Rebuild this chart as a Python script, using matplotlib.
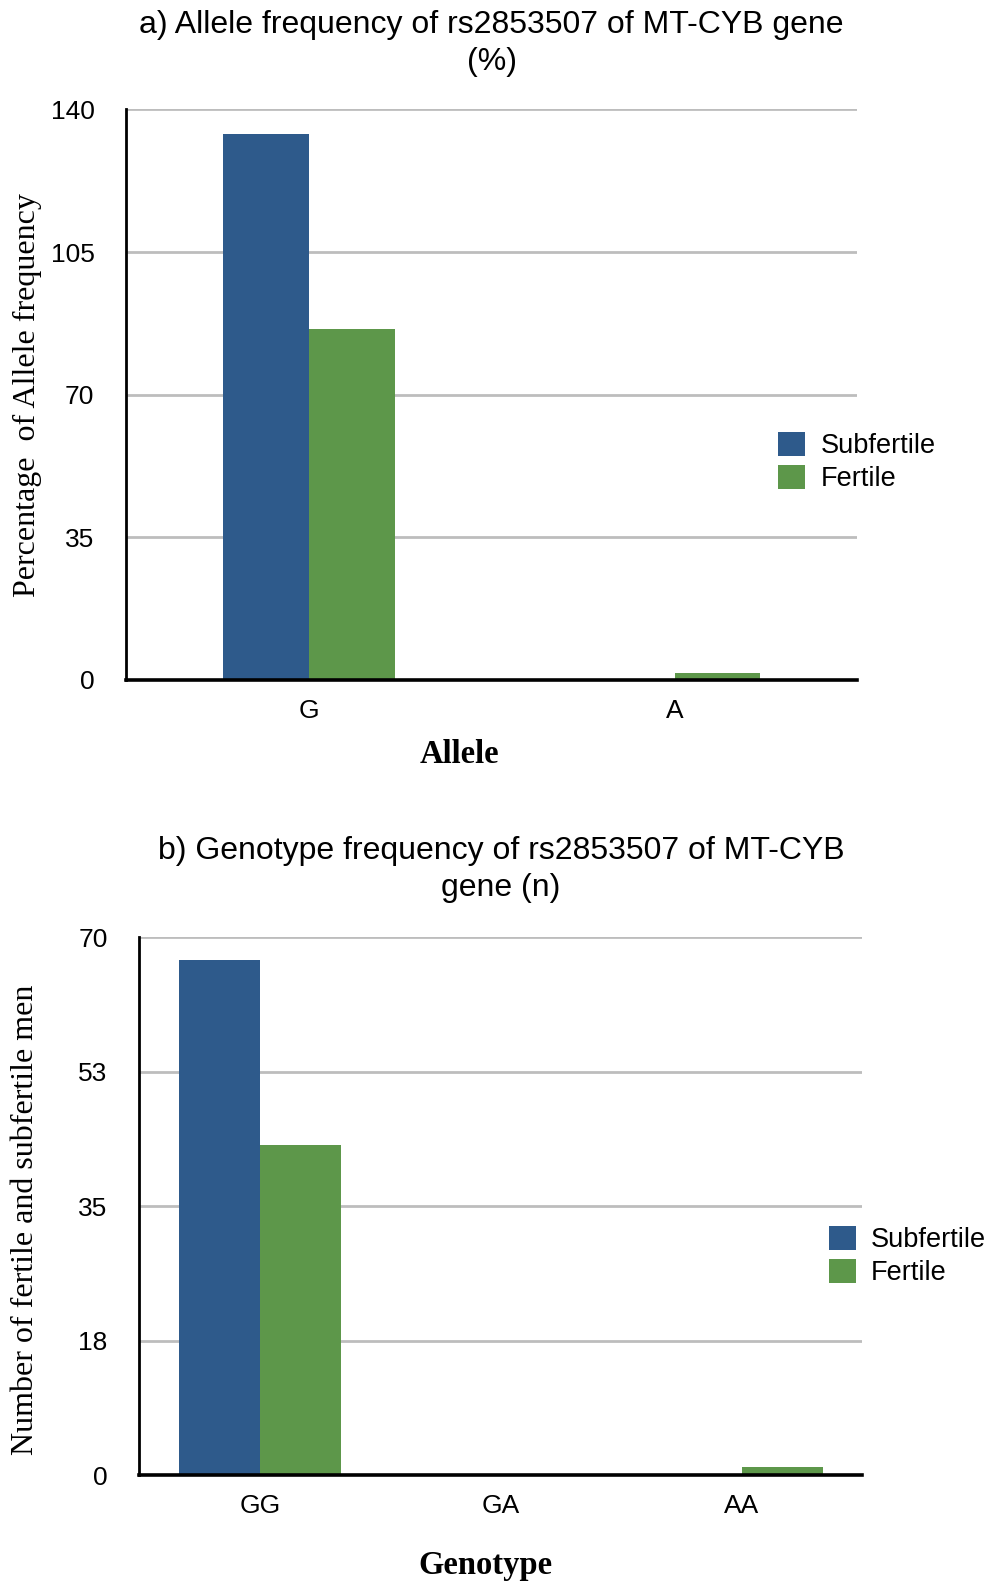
import numpy as np
import matplotlib
matplotlib.use('Agg')
import matplotlib.pyplot as plt

# allele frequency (%)
alleles = ['G', 'A']
allele_sub = [134, 0]
allele_fer = [86, 1.6]
allele_ticks = [0, 35, 70, 105, 140]

# genotype counts (n)
genotypes = ['GG', 'GA', 'AA']
geno_sub = [67, 0, 0]
geno_fer = [43, 0, 1]
geno_ticks = [0, 17.5, 35, 52.5, 70]
geno_ticklabels = ['0', '18', '35', '53', '70']

blue = '#2E5A8B'
green = '#5D974A'
sans = 'Liberation Sans'
serif = 'Liberation Serif'

fig = plt.figure(figsize=(9.89, 15.85), dpi=100)


def style_axes(ax, ticks, ticklabels):
    ax.set_yticks(ticks)
    ax.set_yticklabels(ticklabels, family=sans, fontsize=19)
    ax.set_ylim(ticks[0], ticks[-1])
    ax.tick_params(axis='both', length=0)
    ax.tick_params(axis='y', pad=23)
    ax.tick_params(axis='x', pad=14, labelsize=19)
    for lab in ax.get_xticklabels():
        lab.set_family(sans)
    ax.grid(axis='y', color='#bdbdbd', lw=2)
    ax.set_axisbelow(True)
    ax.spines['top'].set_visible(False)
    ax.spines['right'].set_visible(False)
    ax.spines['left'].set_linewidth(2)
    ax.spines['bottom'].set_linewidth(2.6)
    ax.spines['bottom'].set_zorder(5)


# a) alleles
ax1 = fig.add_axes([0.1278, 0.571, 0.739, 0.360])
x = np.arange(len(alleles))
w = 0.235
ax1.bar(x - w / 2, allele_sub, w, color=blue, label='Subfertile')
ax1.bar(x + w / 2, allele_fer, w, color=green, label='Fertile')
ax1.set_xticks(x)
ax1.set_xticklabels(alleles)
ax1.set_xlim(-0.5, 1.5)
style_axes(ax1, allele_ticks, [str(t) for t in allele_ticks])
ax1.set_ylabel('Percentage  of Allele frequency', family=serif, fontsize=23)
ax1.yaxis.set_label_coords(-0.136, 0.5)
ax1.yaxis.label.set_va('center')
ax1.set_xlabel('Allele', family=serif, fontsize=23.5, fontweight='bold')
ax1.xaxis.set_label_coords(0.456, -0.131)
ax1.xaxis.label.set_va('center')
ax1.legend(loc='center left', bbox_to_anchor=(0.891, 0.382), frameon=False,
           borderaxespad=0, borderpad=0, handlelength=1.0, handleheight=1.0,
           handletextpad=0.6, labelspacing=0.2,
           prop={'family': sans, 'size': 19.5})
fig.text(0.497, 0.9934, 'a) Allele frequency of rs2853507 of MT-CYB gene\n(%)',
         ha='center', va='top', family=sans, fontsize=23, linespacing=1.3)

# b) genotypes
ax2 = fig.add_axes([0.141, 0.0694, 0.731, 0.3394])
x = np.arange(len(genotypes))
w = 0.335
ax2.bar(x - w / 2, geno_sub, w, color=blue, label='Subfertile')
ax2.bar(x + w / 2, geno_fer, w, color=green, label='Fertile')
ax2.set_xticks(x)
ax2.set_xticklabels(genotypes)
ax2.set_xlim(-0.5, 2.5)
style_axes(ax2, geno_ticks, geno_ticklabels)
ax2.set_ylabel('Number of fertile and subfertile men', family=serif, fontsize=23)
ax2.yaxis.set_label_coords(-0.158, 0.475)
ax2.yaxis.label.set_va('center')
ax2.set_xlabel('Genotype', family=serif, fontsize=23.5, fontweight='bold')
ax2.xaxis.set_label_coords(0.479, -0.169)
ax2.xaxis.label.set_va('center')
ax2.legend(loc='center left', bbox_to_anchor=(0.954, 0.407), frameon=False,
           borderaxespad=0, borderpad=0, handlelength=1.0, handleheight=1.0,
           handletextpad=0.55, labelspacing=0.2,
           prop={'family': sans, 'size': 19.5})
fig.text(0.5066, 0.4728, 'b) Genotype frequency of rs2853507 of MT-CYB\ngene (n)',
         ha='center', va='top', family=sans, fontsize=23, linespacing=1.3)

fig.savefig('out.png', dpi=100)
